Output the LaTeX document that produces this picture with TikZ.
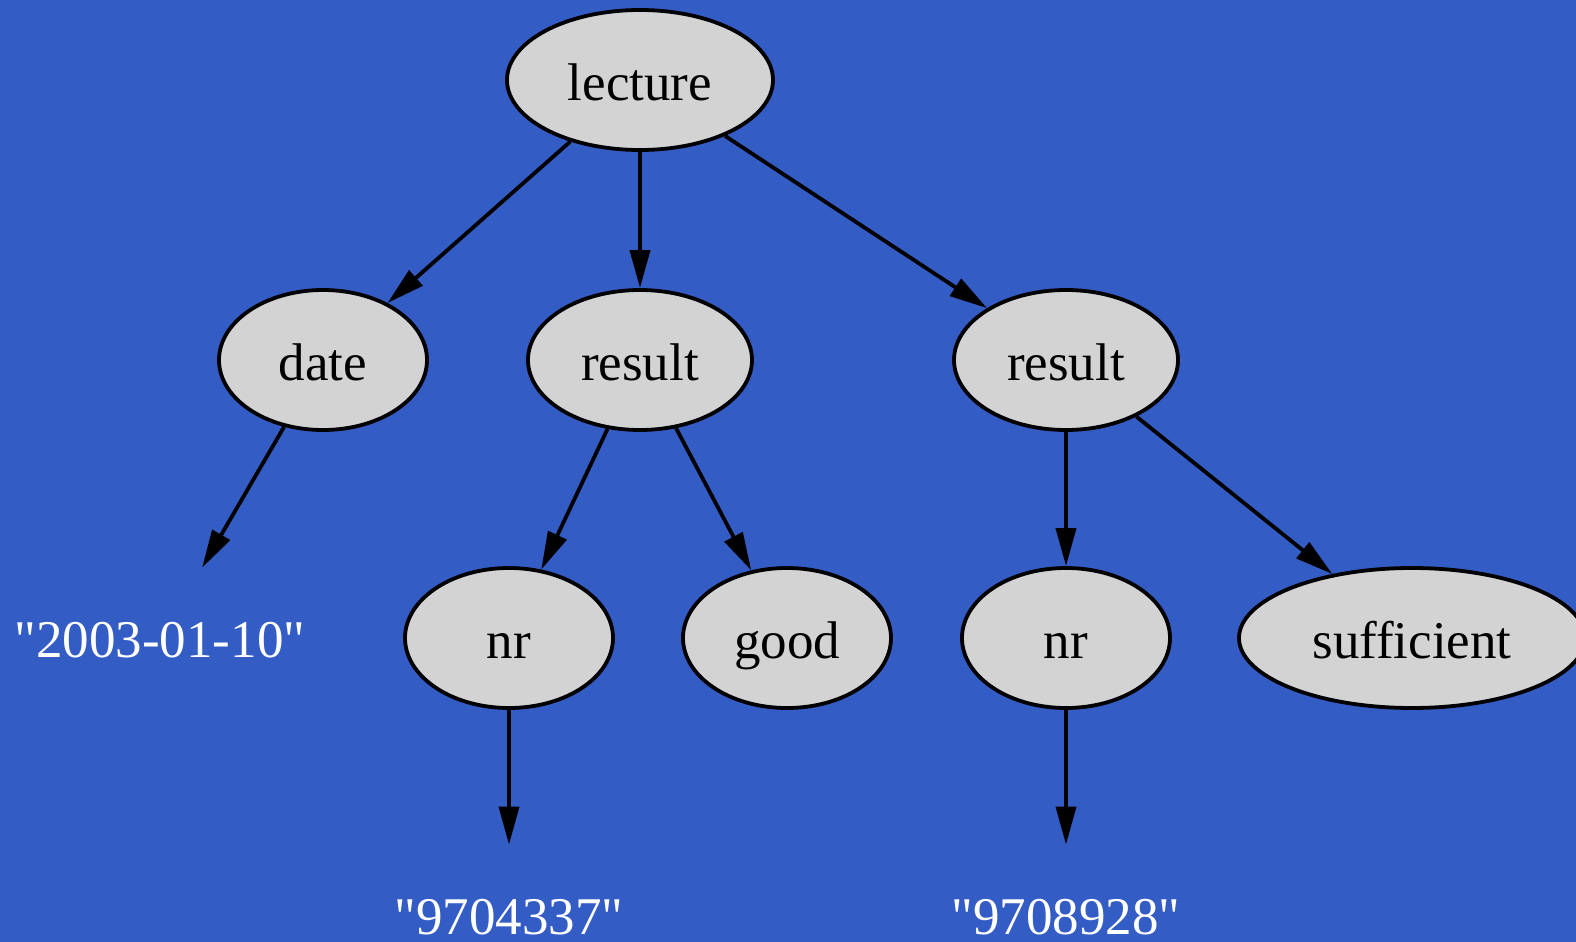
\documentclass[tikz,border=0pt]{standalone}
\usepackage{fontspec}
\setmainfont{Liberation Serif}[Ligatures=TeXOff]
\usetikzlibrary{arrows.meta,shapes.geometric}
\definecolor{bgblue}{RGB}{51,92,197}
\definecolor{nodegray}{RGB}{211,211,211}
\begin{document}
\begin{tikzpicture}[x=0.5pt,y=-0.5pt,
  every node/.style={font=\fontsize{26.5}{30}\selectfont},
  elnode/.style={ellipse,draw=black,line width=1.9pt,fill=nodegray,inner sep=0pt,
    minimum height=70pt,text height=25pt,text depth=5pt},
  txtnode/.style={rectangle,inner sep=0pt,minimum height=72pt,text=white},
  edge/.style={draw=black,line width=1.9pt,-{Triangle[length=19pt,width=10pt]}}]
\useasboundingbox (0,0) rectangle (1576,942);
\fill[bgblue] (0,0) rectangle (1576,942);
\clip (0,0) rectangle (1576,942);
\node[elnode,minimum width=133pt] (lecture) at (640,80) {lecture};
\node[elnode,minimum width=104pt] (date) at (323,360) {date};
\node[elnode,minimum width=112pt] (res1) at (640,360) {result};
\node[elnode,minimum width=112pt] (res2) at (1066,360) {result};
\node[elnode,minimum width=104pt] (nr1) at (509,638) {nr};
\node[elnode,minimum width=104pt] (good) at (787,638) {good};
\node[elnode,minimum width=104pt] (nr2) at (1066,638) {nr};
\node[elnode,minimum width=173pt] (suff) at (1412,638) {sufficient};
\node[txtnode] (tdate) at (160,640) {"2003-01-10"};
\node[txtnode] (tnr1) at (509,917) {"9704337"};
\node[txtnode] (tnr2) at (1066,917) {"9708928"};
\draw[edge] (lecture) -- (date);
\draw[edge] (lecture) -- (res1);
\draw[edge] (lecture) -- (res2);
\draw[edge] (date) -- (tdate);
\draw[edge] (res1) -- (nr1);
\draw[edge] (res1) -- (good);
\draw[edge] (res2) -- (nr2);
\draw[edge] (res2) -- (suff);
\draw[edge] (nr1) -- (tnr1);
\draw[edge] (nr2) -- (tnr2);
\end{tikzpicture}
\end{document}
